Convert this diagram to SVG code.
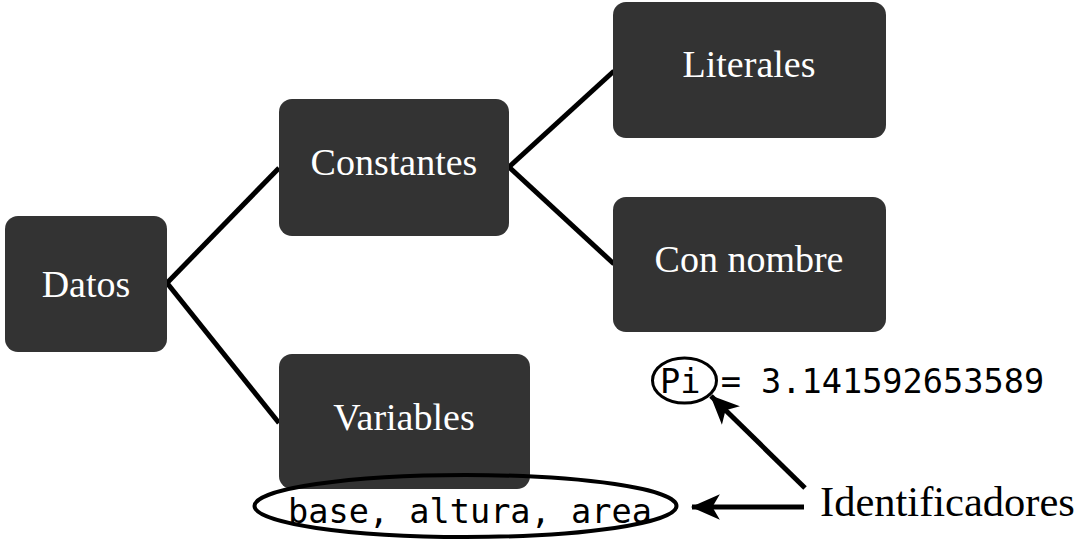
<svg xmlns="http://www.w3.org/2000/svg" width="1082" height="540" viewBox="0 0 1082 540">
<style>
.box{fill:#333333;}
.lbl{font-family:"Liberation Serif","Times New Roman",serif;font-size:38px;fill:#ffffff;text-anchor:middle;}
.code{font-family:"DejaVu Sans Mono","Liberation Mono",monospace;font-size:33.6px;fill:#000000;}
.edge{stroke:#000000;stroke-width:5;fill:none;}
.ring{stroke:#000000;fill:none;}
.note{font-family:"Liberation Serif","Times New Roman",serif;font-size:42.5px;fill:#000000;}
</style>
<defs>
<marker id="arr" markerUnits="userSpaceOnUse" markerWidth="30" markerHeight="30" viewBox="0 0 28 26" refX="26" refY="13" orient="auto">
<path d="M0,1 L27,13 L0,25 L7,13 Z" fill="#000000"/>
</marker>
</defs>
<g id="connectors">
<line class="edge" x1="167" y1="283" x2="279" y2="168"/>
<line class="edge" x1="167" y1="283" x2="279" y2="423"/>
<line class="edge" x1="509" y1="167" x2="614" y2="71"/>
<line class="edge" x1="509" y1="167" x2="614" y2="264"/>
<line class="edge" x1="805" y1="488" x2="711" y2="396" marker-end="url(#arr)"/>
<line class="edge" x1="804" y1="507" x2="692" y2="507" marker-end="url(#arr)"/>
</g>
<g id="datos">
<rect class="box" x="5" y="216" width="162" height="136" rx="13"/>
<text class="lbl" x="86" y="297">Datos</text>
</g>
<g id="constantes">
<rect class="box" x="279" y="99" width="230" height="137" rx="13"/>
<text class="lbl" x="394" y="175">Constantes</text>
</g>
<g id="literales">
<rect class="box" x="613" y="2" width="273" height="136" rx="13"/>
<text class="lbl" x="749" y="77">Literales</text>
</g>
<g id="connombre">
<rect class="box" x="613" y="197" width="273" height="135" rx="13"/>
<text class="lbl" x="749" y="272">Con nombre</text>
</g>
<g id="variables">
<rect class="box" x="279" y="354" width="251" height="135" rx="13"/>
<text class="lbl" x="404" y="430">Variables</text>
</g>
<g id="pi">
<ellipse class="ring" cx="684.5" cy="380.5" rx="32" ry="22.5" stroke-width="3"/>
<text class="code" x="660" y="393" xml:space="preserve">Pi = 3.141592653589</text>
</g>
<g id="vars">
<ellipse class="ring" cx="465.5" cy="506" rx="211" ry="31" stroke-width="4"/>
<text class="code" x="288" y="523">base, altura, area</text>
</g>
<g id="identificadores">
<text class="note" x="820" y="516">Identificadores</text>
</g>
</svg>
